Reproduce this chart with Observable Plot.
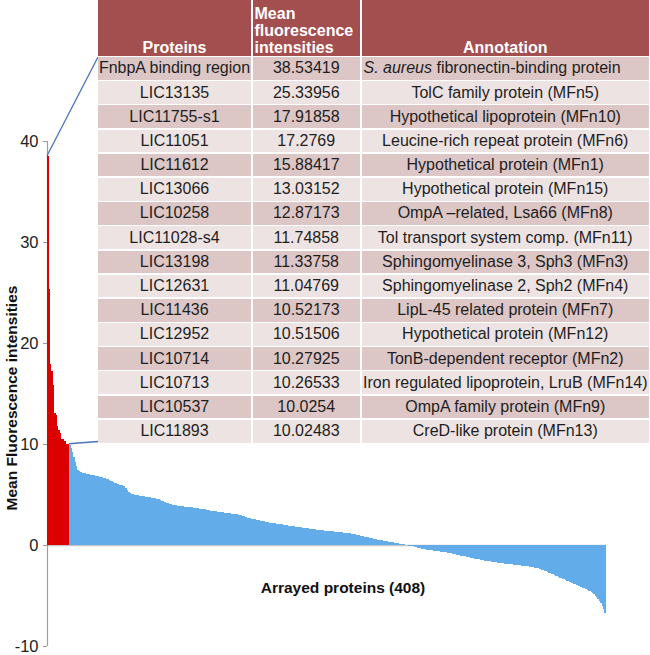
<!DOCTYPE html>
<html>
<head>
<meta charset="utf-8">
<script src="https://cdn.jsdelivr.net/npm/d3@7"></script>
<script src="https://cdn.jsdelivr.net/npm/@observablehq/plot@0.6"></script>
<style>
  html, body { margin: 0; padding: 0; background: #fff; }
  #wrap { position: relative; width: 650px; height: 655px; overflow: hidden; font-family: "Liberation Sans", Arial, sans-serif; }
  #wrap svg { position: absolute; left: 0; top: 0; overflow: visible; }
  svg g[aria-label="y-axis tick"] { stroke: #9a9a9a; }
  #tbl { position: absolute; left: 98px; top: 0px; width: 551px; display: grid;
         grid-template-columns: 153px 107.5px 287.5px; column-gap: 1.5px; row-gap: 1.5px;
         grid-template-rows: 55.5px repeat(16, 22.7px); font-size: 16px; color: #1e1e1e; }
  #tbl .h { background: #a44f4f; color: #fff; font-weight: bold; display: flex; align-items: flex-end; justify-content: center; padding-bottom: 0px; box-sizing: border-box; line-height: 17px; font-size: 16px; }
  #tbl .h.left { justify-content: flex-start; padding-left: 2px; }
  #tbl .c { display: flex; align-items: center; justify-content: center; white-space: nowrap; }
  #tbl .c.left { justify-content: flex-start; padding-left: 2px; }
  #tbl .odd { background: #dcc6c6; }
  #tbl .even { background: #ede3e3; }
  .lab { position: absolute; font-weight: bold; font-size: 15.5px; color: #111; white-space: nowrap; }
</style>
</head>
<body>
<div id="wrap"></div>
<script>
// ---- Data ----
const proteins = ["FnbpA binding region","LIC13135","LIC11755-s1","LIC11051","LIC11612","LIC13066","LIC10258","LIC11028-s4","LIC13198","LIC12631","LIC11436","LIC12952","LIC10714","LIC10713","LIC10537","LIC11893"];
const mfiText = ["38.53419","25.33956","17.91858","17.2769","15.88417","13.03152","12.87173","11.74858","11.33758","11.04769","10.52173","10.51506","10.27925","10.26533","10.0254","10.02483"];
const annotations = ["<i>S. aureus</i> fibronectin-binding protein","TolC family protein (MFn5)","Hypothetical lipoprotein (MFn10)","Leucine-rich repeat protein (MFn6)","Hypothetical protein (MFn1)","Hypothetical protein (MFn15)","OmpA \u2013related, Lsa66 (MFn8)","Tol transport system comp. (MFn11)","Sphingomyelinase 3, Sph3 (MFn3)","Sphingomyelinase 2, Sph2 (MFn4)","LipL-45 related protein (MFn7)","Hypothetical protein (MFn12)","TonB-dependent receptor (MFn2)","Iron regulated lipoprotein, LruB (MFn14)","OmpA family protein (MFn9)","CreD-like protein (MFn13)"];
const headers = ["Proteins","Mean<br>fluorescence<br>intensities","Annotation"];
// remaining 392 arrayed proteins
const otherValues = [
 9.93, 9.62, 9.18, 8.74, 8.21, 7.83, 7.45, 7.31, 7.22, 7.16,
 7.11, 7.08, 7.05, 7.02, 6.99, 6.97, 6.94, 6.92, 6.90, 6.87,
 6.84, 6.81, 6.78, 6.74, 6.70, 6.65, 6.60, 6.55, 6.49, 6.43,
 6.37, 6.30, 6.22, 6.15, 6.09, 6.04, 5.99, 5.95, 5.91, 5.87,
 5.83, 5.66, 5.45, 5.26, 5.12, 5.07, 5.03, 5.00, 4.97, 4.94,
 4.92, 4.89, 4.87, 4.85, 4.82, 4.80, 4.78, 4.76, 4.73, 4.71,
 4.69, 4.66, 4.63, 4.60, 4.56, 4.51, 4.45, 4.39, 4.33, 4.27,
 4.21, 4.16, 4.11, 4.07, 4.03, 4.00, 3.97, 3.95, 3.93, 3.91,
 3.89, 3.87, 3.85, 3.83, 3.81, 3.79, 3.77, 3.76, 3.74, 3.72,
 3.70, 3.68, 3.66, 3.64, 3.62, 3.60, 3.58, 3.56, 3.54, 3.52,
 3.50, 3.47, 3.44, 3.41, 3.38, 3.36, 3.34, 3.32, 3.30, 3.28,
 3.26, 3.24, 3.22, 3.20, 3.18, 3.16, 3.14, 3.12, 3.10, 3.08,
 3.06, 3.04, 3.02, 3.00, 2.97, 2.93, 2.88, 2.83, 2.78, 2.74,
 2.70, 2.66, 2.63, 2.60, 2.57, 2.54, 2.51, 2.48, 2.45, 2.42,
 2.39, 2.36, 2.33, 2.30, 2.27, 2.24, 2.21, 2.19, 2.17, 2.15,
 2.13, 2.11, 2.09, 2.07, 2.05, 2.03, 2.01, 1.99, 1.97, 1.95,
 1.93, 1.91, 1.89, 1.87, 1.85, 1.83, 1.81, 1.79, 1.77, 1.75,
 1.73, 1.71, 1.69, 1.67, 1.65, 1.63, 1.61, 1.59, 1.57, 1.55,
 1.53, 1.51, 1.49, 1.48, 1.46, 1.45, 1.43, 1.42, 1.40, 1.39,
 1.37, 1.36, 1.34, 1.33, 1.31, 1.30, 1.28, 1.27, 1.25, 1.24,
 1.22, 1.21, 1.20, 1.18, 1.16, 1.14, 1.11, 1.08, 1.05, 1.02,
 0.99, 0.96, 0.93, 0.90, 0.87, 0.84, 0.81, 0.78, 0.75, 0.72,
 0.69, 0.66, 0.63, 0.60, 0.57, 0.54, 0.51, 0.48, 0.46, 0.43,
 0.41, 0.38, 0.35, 0.33, 0.30, 0.28, 0.25, 0.23, 0.20, 0.18,
 0.15, 0.13, 0.10, 0.08, 0.05, 0.03, 0.01, -0.02, -0.05, -0.08,
 -0.11, -0.14, -0.18, -0.21, -0.25, -0.28, -0.32, -0.35, -0.38, -0.41,
 -0.43, -0.45, -0.47, -0.49, -0.51, -0.53, -0.55, -0.57, -0.59, -0.61,
 -0.63, -0.65, -0.67, -0.69, -0.71, -0.73, -0.75, -0.77, -0.80, -0.83,
 -0.86, -0.89, -0.92, -0.95, -0.98, -1.01, -1.04, -1.07, -1.10, -1.13,
 -1.16, -1.19, -1.22, -1.25, -1.28, -1.31, -1.34, -1.37, -1.40, -1.43,
 -1.46, -1.49, -1.52, -1.55, -1.57, -1.59, -1.61, -1.63, -1.65, -1.67,
 -1.69, -1.71, -1.73, -1.75, -1.77, -1.79, -1.81, -1.83, -1.85, -1.87,
 -1.89, -1.90, -1.92, -1.93, -1.95, -1.96, -1.98, -1.99, -2.01, -2.02,
 -2.04, -2.05, -2.07, -2.08, -2.10, -2.12, -2.14, -2.16, -2.18, -2.20,
 -2.23, -2.26, -2.30, -2.34, -2.39, -2.44, -2.50, -2.56, -2.62, -2.68,
 -2.74, -2.80, -2.86, -2.92, -2.98, -3.04, -3.10, -3.16, -3.22, -3.28,
 -3.34, -3.40, -3.46, -3.52, -3.58, -3.64, -3.70, -3.76, -3.82, -3.88,
 -3.94, -4.00, -4.06, -4.12, -4.18, -4.24, -4.30, -4.37, -4.44, -4.51,
 -4.59, -4.68, -4.78, -4.90, -5.03, -5.18, -5.35, -5.55, -5.78, -6.05,
 -6.38, -6.78
];
const yTicks = [-10, 0, 10, 20, 30, 40];
const yLabel = "Mean Fluorescence intensities";
const xLabel = "Arrayed proteins (408)";

// ---- Build ----
const topValues = mfiText.map(Number);
const allValues = topValues.concat(otherValues);
const rows = allValues.map((v, i) => ({i, v, top: i < topValues.length}));
const RED = "#dd0000", BLUE = "#62acea";

const plot = Plot.plot({
  width: 650, height: 655,
  marginLeft: 47, marginRight: 44, marginTop: 141, marginBottom: 9,
  style: {fontFamily: "Liberation Sans, Arial, sans-serif", fontSize: "16.5px", color: "#222", background: "transparent"},
  x: {domain: [0, allValues.length], axis: null},
  y: {domain: [-10, 40], ticks: yTicks, tickSize: 4, tickPadding: 5, label: null, tickFormat: d => String(d)},
  marks: [
    Plot.ruleY([0], {stroke: "#c4c4c4", strokeWidth: 1.5}),
    Plot.ruleX([0], {stroke: "#a0a0a0", strokeWidth: 1.2}),
    Plot.rectY(rows, {x1: "i", x2: d => d.i + 1, y: "v", fill: d => d.top ? RED : BLUE, insetLeft: -0.3, insetRight: -0.3, shapeRendering: "crispEdges"})
  ]
});

const wrap = document.getElementById("wrap");
wrap.appendChild(plot);

// table
const tbl = document.createElement("div");
tbl.id = "tbl";
headers.forEach((h, j) => {
  const d = document.createElement("div");
  d.className = "h" + (j === 1 ? " left" : "");
  d.innerHTML = "<span>" + h + "</span>";
  tbl.appendChild(d);
});
proteins.forEach((p, k) => {
  const cls = k % 2 === 0 ? "odd" : "even";
  const cells = [p, mfiText[k], annotations[k]];
  cells.forEach((t, j) => {
    const d = document.createElement("div");
    d.className = "c " + cls + (k === 0 && j === 2 ? " left" : "");
    d.innerHTML = "<span>" + t + "</span>";
    tbl.appendChild(d);
  });
});
wrap.appendChild(tbl);

// connector lines from the highlighted bars to the table
const sx = plot.scale("x"), sy = plot.scale("y");
const svgNS = "http://www.w3.org/2000/svg";
const tableLeft = 98, tableTop = 57, tableBottom = 441.5;
const n = topValues.length;
[[sx.apply(0), sy.apply(topValues[0]), tableLeft, tableTop],
 [sx.apply(n), sy.apply(topValues[n - 1]), tableLeft, tableBottom]].forEach(([x1, y1, x2, y2]) => {
  const l = document.createElementNS(svgNS, "line");
  l.setAttribute("x1", x1); l.setAttribute("y1", y1);
  l.setAttribute("x2", x2); l.setAttribute("y2", y2);
  l.setAttribute("stroke", "#4a72b8"); l.setAttribute("stroke-width", "1.3");
  plot.appendChild(l);
});

// axis titles
const yl = document.createElement("div");
yl.className = "lab"; yl.textContent = yLabel;
yl.style.left = "12px"; yl.style.top = "398px";
yl.style.transform = "translate(-50%, -50%) rotate(-90deg)";
wrap.appendChild(yl);
const xl = document.createElement("div");
xl.className = "lab"; xl.textContent = xLabel;
xl.style.left = "343px"; xl.style.top = "588px";
xl.style.transform = "translate(-50%, -50%)";
wrap.appendChild(xl);
</script>
</body>
</html>
